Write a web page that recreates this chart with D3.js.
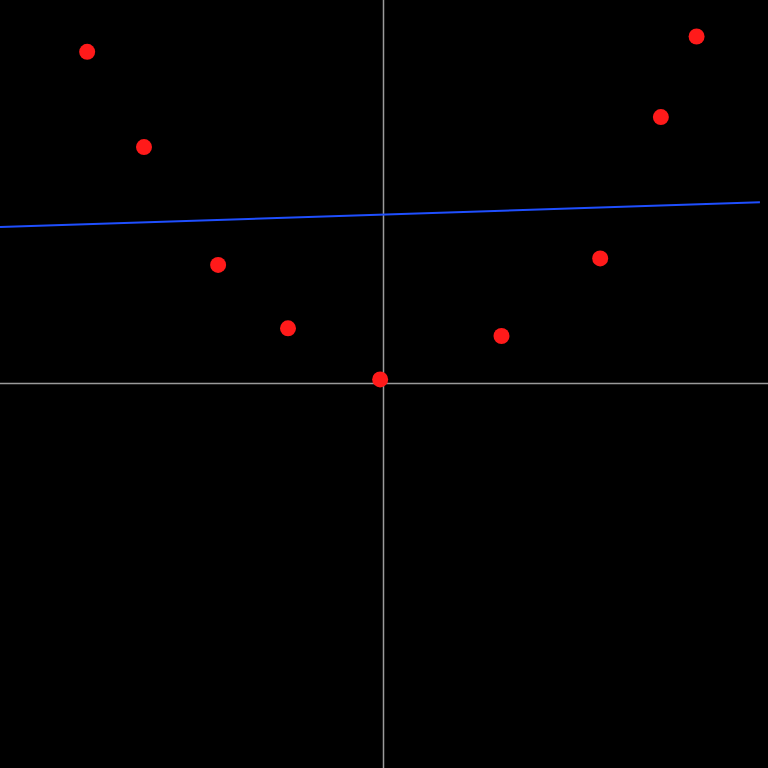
<!DOCTYPE html>
<html><head><meta charset="utf-8">
<script src="https://cdn.jsdelivr.net/npm/d3@7"></script>
<style>html,body{margin:0;padding:0;background:#000;overflow:hidden}</style>
</head><body>
<svg id="c" width="768" height="768"></svg>
<script>
const xs = [-7.73, -6.25, -4.32, -2.5, -0.10, 3.06, 5.63, 7.21, 8.14];
const ys = [8.65, 6.17, 3.10, 1.45, 0.12, 1.25, 3.27, 6.95, 9.05];
const lineX = [-10, 9.79];
const lineY = [4.09, 4.73];

const W = 768, H = 768;
const x = d3.scaleLinear().domain([-10, 10]).range([0, W]);
const y = d3.scaleLinear().domain([-10, 10]).range([H, 0]);
const svg = d3.select('#c');
svg.append('rect').attr('width', W).attr('height', H).attr('fill', '#000');

svg.append('line').attr('x1', x(-10)).attr('x2', x(10)).attr('y1', y(0) - 0.5).attr('y2', y(0) - 0.5)
  .attr('stroke', '#9a9a9a').attr('stroke-width', 1.5);
svg.append('line').attr('y1', y(-10)).attr('y2', y(10)).attr('x1', x(0) - 0.5).attr('x2', x(0) - 0.5)
  .attr('stroke', '#9a9a9a').attr('stroke-width', 1.5);

const lineData = lineX.map((v, i) => [v, lineY[i]]);
svg.append('path').datum(lineData)
  .attr('d', d3.line().x(d => x(d[0])).y(d => y(d[1])))
  .attr('stroke', '#1f4fff').attr('stroke-width', 2).attr('fill', 'none');

svg.selectAll('circle.pt').data(xs.map((v, i) => [v, ys[i]])).enter()
  .append('circle').attr('class', 'pt')
  .attr('cx', d => x(d[0])).attr('cy', d => y(d[1])).attr('r', 8)
  .attr('fill', '#ff1a1a');
</script>
</body></html>
